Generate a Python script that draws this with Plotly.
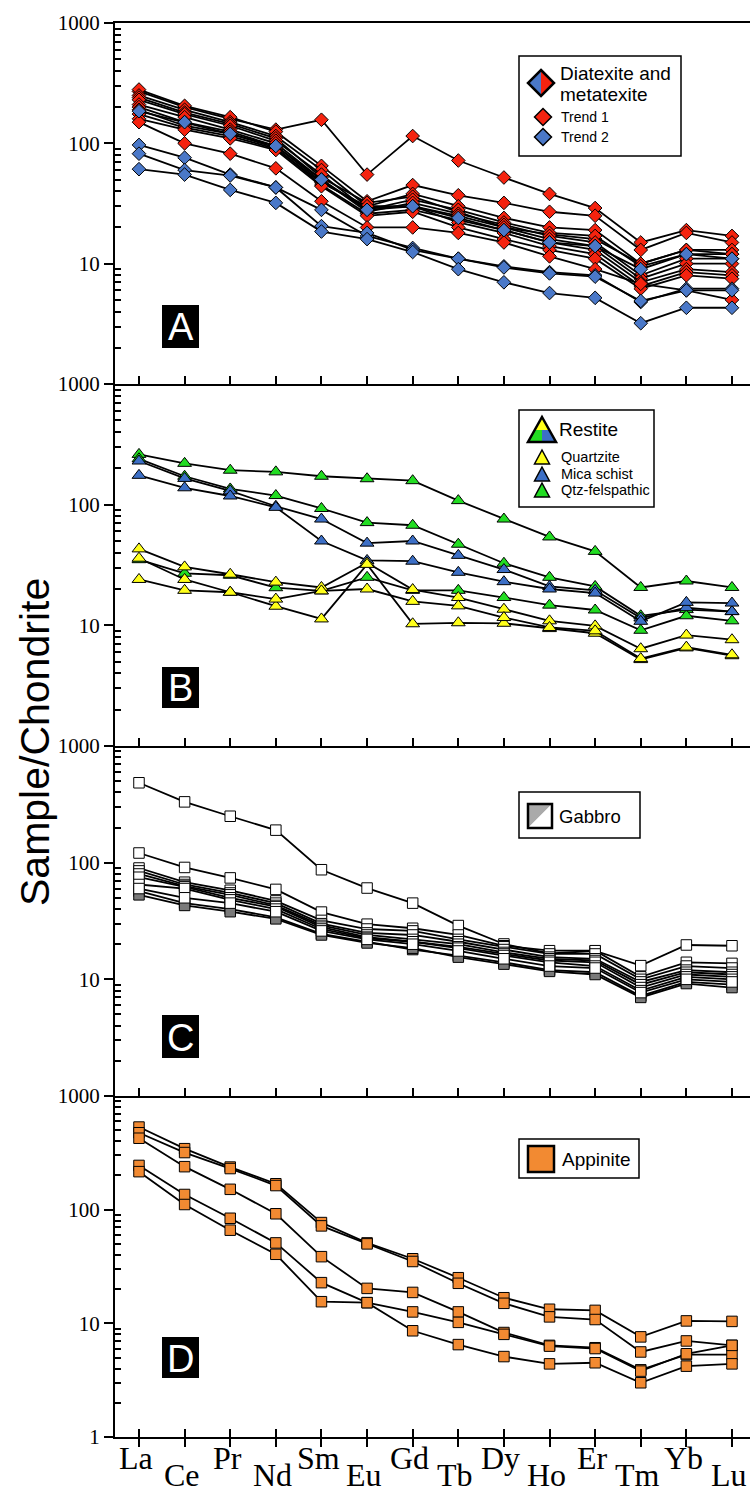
import plotly.graph_objects as go

# ---------------- data ----------------
ree = ["La", "Ce", "Pr", "Nd", "Sm", "Eu", "Gd", "Tb", "Dy", "Ho", "Er", "Tm", "Yb", "Lu"]

# Panel A - Diatexite and metatexite
trend1 = [
    [270, 200, 160, 130, 157, 55, 115, 72, 52, 38, 29, 15, 19, 17],
    [280, 205, 165, 125, 65, 33, 45, 37, 32, 27, 25, 13, 18, 15],
    [250, 190, 150, 115, 60, 30, 38, 30, 24, 20, 19, 10, 13, 13],
    [240, 180, 145, 110, 52, 32, 36, 27, 20, 17.5, 16, 10, 13, 12],
    [230, 175, 140, 105, 55, 28, 34, 28, 22, 18, 17, 9.5, 12, 12],
    [210, 165, 130, 100, 50, 27, 32, 26, 21, 17, 15, 8, 11, 11],
    [200, 150, 125, 95, 48, 29, 30, 25, 20, 16, 14, 7.5, 10, 10],
    [190, 140, 120, 92, 45, 26, 28, 23, 19, 15, 13, 7, 9, 8.5],
    [175, 135, 115, 90, 47, 30, 30, 22, 18, 14, 12, 6.5, 8.5, 8],
    [160, 130, 110, 88, 44, 25, 27, 20, 16, 13, 11, 6.2, 8, 7.5],
    [150, 100, 82, 62, 33, 20, 20, 18, 15, 11.5, 9, 6.8, 6, 5],
]
trend2 = [
    [185, 150, 120, 95, 50, 28, 30, 24, 19, 15, 14, 9, 12, 11],
    [97, 76, 55, 43, 28, 17, 13.5, 11, 9.5, 8.5, 8, 4.8, 6.2, 6.2],
    [82, 60, 54, 43, 20.5, 18, 13, 11, 9.3, 8.3, 7.8, 4.9, 6, 6],
    [61, 55, 41, 32, 18.5, 16, 12.5, 9, 7, 5.7, 5.2, 3.2, 4.3, 4.3],
]

# Panel B - Restite
quartzite = [
    [43, 30.5, 26.5, 22.8, 20.6, 33, 19.8, 17, 13.6, 10.9, 9.9, 6.4, 8.3, 7.6],
    [36, 24, 18.8, 14.4, 11.3, 32, 10.3, 10.5, 10.4, 9.4, 8.6, 5.2, 6.5, 5.6],
    [24, 19.5, 18.8, 16.5, 19.3, 20, 15.8, 14.5, 11.6, 9.6, 9, 5.3, 6.6, 5.7],
]
mica_schist = [
    [230, 165, 130, 97, 76, 48, 50, 38, 29, 21, 19.5, 11.5, 14, 13],
    [175, 138, 118, 95, 50, 34.5, 34, 27.5, 23, 20, 18.5, 10.8, 15.5, 15.3],
]
qtz_felspathic = [
    [261, 220, 193, 187, 172, 164, 158, 108, 76, 54, 41, 20.6, 23.3, 20.6],
    [240, 172, 135, 119, 93, 71, 67.5, 47, 32.7, 25, 21, 12, 13.5, 13],
    [35, 27, 26, 20.5, 19.3, 25, 19.5, 19.5, 17, 14.7, 13.4, 9.1, 12, 10.9],
]

# Panel C - Gabbro
gabbro_white = [
    [484, 332, 250, 190, 87, 60.6, 45, 28.9, 20.1, 16.7, 17.5, 13.1, 19.7, 19.4],
    [121, 91, 74, 59, 37.7, 29.7, 27.4, 24, 19.4, 17.6, 17.6, 10.5, 14, 13.7],
    [90, 68, 58, 47, 32, 27, 26, 22, 19, 16.5, 16.5, 10, 13, 12.5],
    [85, 65, 55, 45, 30, 25, 24, 21, 18, 15.5, 15, 9.5, 12, 11.5],
    [80, 63, 53, 43, 29, 24, 22, 20, 17, 15, 14.5, 9, 11.5, 11],
    [75, 62, 50, 42, 28, 23, 21, 19, 16.5, 14.5, 14, 8.5, 11, 10.5],
    [65, 60, 48, 40, 27, 22.5, 21, 18.5, 16, 14, 13, 8, 10.5, 10],
    [60, 50, 45, 38, 26, 22, 20, 17.5, 15, 13, 12.5, 7.7, 10, 9.5],
]
gabbro_grey = [
    [57, 45, 40, 34, 24.5, 21, 18, 16, 14, 12, 11.5, 7.2, 9.5, 9],
    [53, 43, 38, 33, 24, 20.5, 18.5, 15.5, 13.5, 11.7, 11, 7, 9.2, 8.5],
]

# Panel D - Appinite
appinite = [
    [533, 344, 237, 169, 77, 51, 37, 25.2, 16.8, 13.3, 13, 7.6, 10.5, 10.4],
    [475, 318, 230, 163, 72, 50, 35, 22.5, 15, 11.4, 10.8, 5.6, 7, 6.4],
    [425, 239, 151, 92, 38.6, 20.3, 18.7, 12.6, 8.3, 6.4, 6.1, 3.9, 5.3, 5.3],
    [245, 136, 84, 51, 22.8, 15.2, 12.6, 10.2, 8, 6.3, 6, 3.8, 5.4, 6.4],
    [216, 111, 66, 40.5, 15.5, 15.2, 8.6, 6.5, 5.1, 4.4, 4.5, 3.0, 4.2, 4.4],
]

# ---------------- styling ----------------
RED = "#F5230F"
BLUE_D = "#4A78C8"
YELLOW = "#FFFF1A"
BLUE_T = "#3C6FC6"
GREEN = "#22DD22"
GREY = "#7A7A7A"
ORANGE = "#F28A32"

W, H = 750, 1497
L, R, T, B = 115, 750, 23, 1437


def px(x):
    return (x - L) / (R - L)


def py(y):
    return (B - y) / (B - T)


xs = list(range(len(ree)))
fig = go.Figure()


def add_group(samples, symbol, color, size, xa, ya):
    for s in samples:
        fig.add_trace(go.Scatter(
            x=xs, y=s, xaxis=xa, yaxis=ya, mode="lines+markers",
            line=dict(color="black", width=1.8),
            marker=dict(symbol=symbol, size=size, color=color,
                        line=dict(color="black", width=1)),
            showlegend=False, hoverinfo="skip"))


add_group(trend1, "diamond", RED, 10.5, "x", "y")
add_group(trend2, "diamond", BLUE_D, 10.5, "x", "y")
add_group(qtz_felspathic, "triangle-up", GREEN, 12, "x2", "y2")
add_group(mica_schist, "triangle-up", BLUE_T, 12, "x2", "y2")
add_group(quartzite, "triangle-up", YELLOW, 12, "x2", "y2")
add_group(gabbro_grey, "square", GREY, 10.5, "x3", "y3")
add_group(gabbro_white, "square", "white", 10.5, "x3", "y3")
add_group(appinite, "square", ORANGE, 10.5, "x4", "y4")

# ---------------- axes ----------------
doms = [
    [py(384), 1.0],
    [py(746), py(384)],
    [py(1096), py(746)],
    [0.0, py(1096)],
]
minor_vals = [m * 10 ** e for e in range(0, 3) for m in range(2, 10)]
layout = dict(
    width=W, height=H, paper_bgcolor="white", plot_bgcolor="white",
    margin=dict(l=L, r=W - R, t=T, b=H - B), showlegend=False,
)
for i in range(4):
    sx = "" if i == 0 else str(i + 1)
    layout["xaxis" + sx] = dict(
        domain=[0, 1], anchor="y" + sx, range=[-0.526, 13.395],
        tickvals=xs, showticklabels=False,
        ticks="outside" if i == 3 else "inside", ticklen=8, tickwidth=1.8,
        tickcolor="black", showline=True, linewidth=2.2, linecolor="black",
        mirror=(i == 0), showgrid=False, zeroline=False)
    tv = [1, 10, 100, 1000] if i == 3 else [10, 100, 1000]
    layout["yaxis" + sx] = dict(
        domain=doms[i], anchor="x" + sx, type="log", range=[0, 3],
        tickvals=tv, ticktext=[str(v) for v in tv],
        ticks="outside", ticklen=9, tickwidth=2, tickcolor="black",
        tickfont=dict(family="Liberation Serif", size=21, color="black"),
        minor=dict(tickvals=minor_vals, ticks="inside", ticklen=6,
                   tickwidth=1.5, tickcolor="black"),
        showline=True, linewidth=2.2, linecolor="black",
        showgrid=False, zeroline=False)
fig.update_layout(**layout)

# extra inside ticks for panel D bottom axis
fig.update_layout(xaxis5=dict(overlaying="x4", anchor="y4", range=[-0.526, 13.395],
                              tickvals=xs, showticklabels=False, ticks="inside",
                              ticklen=8, tickwidth=1.8, tickcolor="black",
                              showline=False, showgrid=False, zeroline=False))
fig.add_trace(go.Scatter(x=[None], y=[None], xaxis="x5", yaxis="y4",
                         mode="markers", showlegend=False, hoverinfo="skip"))

# ---------------- decorations ----------------
shapes = []
annotations = []


def poly(points, fill, lw=0, lc="black"):
    path = "M " + " L ".join(f"{px(a):.5f},{py(b):.5f}" for a, b in points) + " Z"
    shapes.append(dict(type="path", xref="paper", yref="paper", path=path,
                       fillcolor=fill, line=dict(width=lw, color=lc)))


def outline(points, lw):
    path = "M " + " L ".join(f"{px(a):.5f},{py(b):.5f}" for a, b in points) + " Z"
    shapes.append(dict(type="path", xref="paper", yref="paper", path=path,
                       fillcolor="rgba(0,0,0,0)", line=dict(width=lw, color="black")))


def rect(x0, y0, x1, y1, fill="white", lw=1.5):
    shapes.append(dict(type="rect", xref="paper", yref="paper",
                       x0=px(x0), x1=px(x1), y0=py(y1), y1=py(y0),
                       fillcolor=fill, line=dict(width=lw, color="black")))


def text(x, y, s, size, color="black", family="Liberation Sans", xanchor="left"):
    annotations.append(dict(xref="paper", yref="paper", x=px(x), y=py(y), text=s,
                            showarrow=False, xanchor=xanchor, yanchor="middle",
                            font=dict(family=family, size=size, color=color)))


def diamond(cx, cy, h, fill):
    poly([(cx, cy - h), (cx + h, cy), (cx, cy + h), (cx - h, cy)], fill, 1.5)


def tri(cx, cy, hw, hh, fill):
    poly([(cx, cy - hh), (cx + hw, cy + hh), (cx - hw, cy + hh)], fill, 1.5)


# Legend A
rect(519, 56, 681, 156)
cx, cy, h = 541, 83, 13
poly([(cx, cy - h), (cx, cy + h), (cx - h, cy)], BLUE_D)
poly([(cx, cy - h), (cx + h, cy), (cx, cy + h)], RED)
outline([(cx, cy - h), (cx + h, cy), (cx, cy + h), (cx - h, cy)], 2.5)
text(558, 74, "Diatexite and", 19)
text(558, 95, "metatexite", 19)
diamond(543, 117, 8.5, RED)
text(559, 117, "Trend 1", 14)
diamond(543, 137, 8.5, BLUE_D)
text(559, 137, "Trend 2", 14)

# Legend B
rect(519, 410, 654, 507)
ax, ay, by_, bl, br = 542, 417, 442, 528, 556
poly([(ax, ay), (549, 430), (535, 430)], YELLOW)
poly([(535, 430), (542, 430), (542, by_), (bl, by_)], GREEN)
poly([(542, 430), (549, 430), (br, by_), (542, by_)], BLUE_T)
outline([(ax, ay), (br, by_), (bl, by_)], 2.5)
text(557, 429, "Restite", 19)
tri(542, 457, 7.5, 7, YELLOW)
text(559, 457, "Quartzite", 14.5)
tri(542, 474, 7.5, 7, BLUE_T)
text(559, 474, "Mica schist", 14.5)
tri(542, 490, 7.5, 7, GREEN)
text(559, 490, "Qtz-felspathic", 14.5)

# Legend C
rect(519, 792, 640, 838)
poly([(528, 828), (528, 804), (552, 804)], "#AAAAAA")
poly([(528, 828), (552, 804), (552, 828)], "white")
outline([(528, 804), (552, 804), (552, 828), (528, 828)], 2.5)
text(557, 816, "Gabbro", 18.5)

# Legend D
rect(519, 1139, 639, 1178)
poly([(528, 1146), (554, 1146), (554, 1172), (528, 1172)], ORANGE, 2.5)
text(560, 1159, "Appinite", 19)

# Panel letters
for letter, (y0, y1) in zip("ABCD", [(305, 348), (667, 708), (1015, 1058), (1337, 1378)]):
    rect(162, y0, 199, y1, fill="black", lw=0)
    text(180.5, (y0 + y1) / 2 + 1, letter, 38, color="white", xanchor="center")

# x category labels (staggered)
for i, el in enumerate(ree):
    yy = 1458 if i % 2 == 0 else 1475
    annotations.append(dict(xref="x4", yref="paper", x=i, y=py(yy), text=el,
                            showarrow=False, xanchor="center", yanchor="middle",
                            xshift=-3,
                            font=dict(family="Liberation Serif", size=32, color="black")))

# y-axis title
annotations.append(dict(xref="paper", yref="paper", x=px(35), y=py(742),
                        text="Sample/Chondrite", textangle=-90, showarrow=False,
                        xanchor="center", yanchor="middle",
                        font=dict(family="Liberation Sans", size=41, color="black")))

fig.update_layout(shapes=shapes, annotations=annotations)
fig.write_html("out.html", config={"displayModeBar": False},
               post_script="document.body.style.margin='0';document.body.style.overflow='hidden';")
